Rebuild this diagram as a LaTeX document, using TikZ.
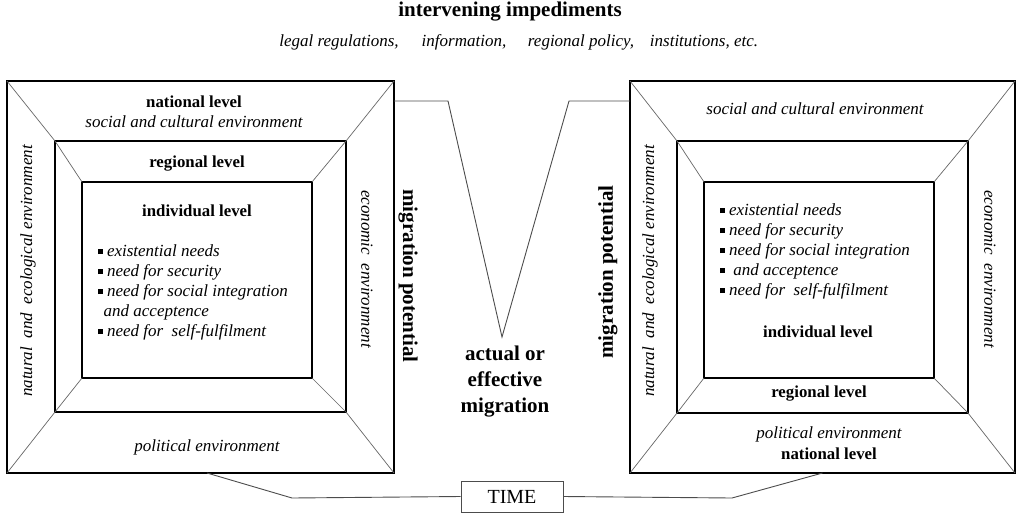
\documentclass[tikz,border=0pt]{standalone}
\usepackage{fontspec}
\setmainfont{Liberation Serif}
\usetikzlibrary{calc}
\usetikzlibrary{positioning}

\newcommand{\sqb}{\rule[2.5pt]{4.8pt}{4.8pt}\hspace{4.5pt}}

\begin{document}
\begin{tikzpicture}[x=1pt,y=-1pt] %% migration frames
	\tikzstyle{frame}=[draw,line width=2.6pt,inner sep=0pt,outer sep=0pt]
	\tikzstyle{diag}=[draw=black!60,line width=0.7pt]
	\tikzstyle{thin}=[draw=black!70,line width=0.9pt]
	\tikzstyle{lvl}=[inner sep=0pt,font=\fontsize{16.8}{20}\selectfont\bfseries]
	\tikzstyle{env}=[inner sep=0pt,font=\fontsize{17}{20}\selectfont\itshape]
	\tikzstyle{big}=[inner sep=0pt,font=\fontsize{21}{26}\selectfont\bfseries,align=center]
	\useasboundingbox (0,0) rectangle (1017,517);
	% heading
	\node[inner sep=0pt,font=\fontsize{21}{24}\selectfont\bfseries] (title) at (510,12) {intervening impediments};
	\node[env] (legal) at (339,42) {legal regulations,};
	\node[env] (info) at (464,42) {information,};
	\node[env] (policy) at (581,42) {regional policy,};
	\node[env] (inst) at (704,42) {institutions, etc.};
	% left frames
	\node[frame,minimum width=387pt,minimum height=392pt] (outL) at (200.5,277) {};
	\node[frame,minimum width=291pt,minimum height=271pt] (midL) at (200.5,276.5) {};
	\node[frame,minimum width=230pt,minimum height=196pt] (inL) at (197,280) {};
	% right frames
	\node[frame,minimum width=385pt,minimum height=392pt] (outR) at (822.5,277) {};
	\node[frame,minimum width=291pt,minimum height=272pt] (midR) at (822.5,277) {};
	\node[frame,minimum width=230pt,minimum height=196pt] (inR) at (819,280) {};
	\foreach \s in {L,R}
		\foreach \c in {north west,north east,south west,south east}
			\draw[diag] (out\s.\c) -- (mid\s.\c) -- (in\s.\c);
	% left texts
	\node[lvl] (natlevL) at (194,102) {national level};
	\node[env] (socL) at (194,122) {social and cultural environment};
	\node[lvl] (reglevL) at (197,164) {regional level};
	\node[lvl] (indlevL) at (197,211) {individual level};
	\node[env,align=left,anchor=north west] (needsL) at (97.5,244.5) {\sqb existential needs\\ \sqb need for security\\ \sqb need for social integration\\ \hspace*{6pt}and acceptence\\ \sqb need for\ \ self-fulfilment};
	\node[env] (polL) at (207,447) {political environment};
	\node[env,rotate=90] (natL) at (28,271) {natural\ \ and\ \ ecological environment};
	\node[env,rotate=-90] (ecoL) at (367,269) {economic\ \ environment};
	\node[big,rotate=-90] (potL) at (408,276) {migration potential};
	% right texts
	\node[env] (socR) at (815,109) {social and cultural environment};
	\node[env,align=left,anchor=north west] (needsR) at (719.5,203.5) {\sqb existential needs\\ \sqb need for security\\ \sqb need for social integration\\ \sqb\ and acceptence\\ \sqb need for\ \ self-fulfilment};
	\node[lvl] (indlevR) at (818,332) {individual level};
	\node[lvl] (reglevR) at (819,394) {regional level};
	\node[env] (polR) at (829,434) {political environment};
	\node[lvl] (natlevR) at (829,454) {national level};
	\node[env,rotate=90] (natR) at (650,271) {natural\ \ and\ \ ecological environment};
	\node[env,rotate=-90] (ecoR) at (990,269) {economic\ \ environment};
	\node[big,rotate=90] (potR) at (608,272) {migration potential};
	% actual migration
	\coordinate (vL) at (448,101);
	\coordinate (vTip) at (502,337);
	\coordinate (vR) at (569,101);
	\draw[thin] (outL.east |- vL) -- (vL) -- (vTip) -- (vR) -- (outR.west |- vR);
	\node[big] (actual) at (505,382) {actual or\\effective\\migration};
	% time
	\node[thin,minimum width=102pt,minimum height=31pt,inner sep=0pt,font=\fontsize{20}{22}\selectfont] (time) at (512,496.5) {TIME};
	\coordinate (tL) at (292,498);
	\coordinate (tR) at (732,498);
	\draw[thin] ([xshift=6.5pt]outL.south) -- (tL) -- (time.west);
	\draw[thin] (time.east) -- (tR) -- (outR.south);
\end{tikzpicture}
\end{document}
